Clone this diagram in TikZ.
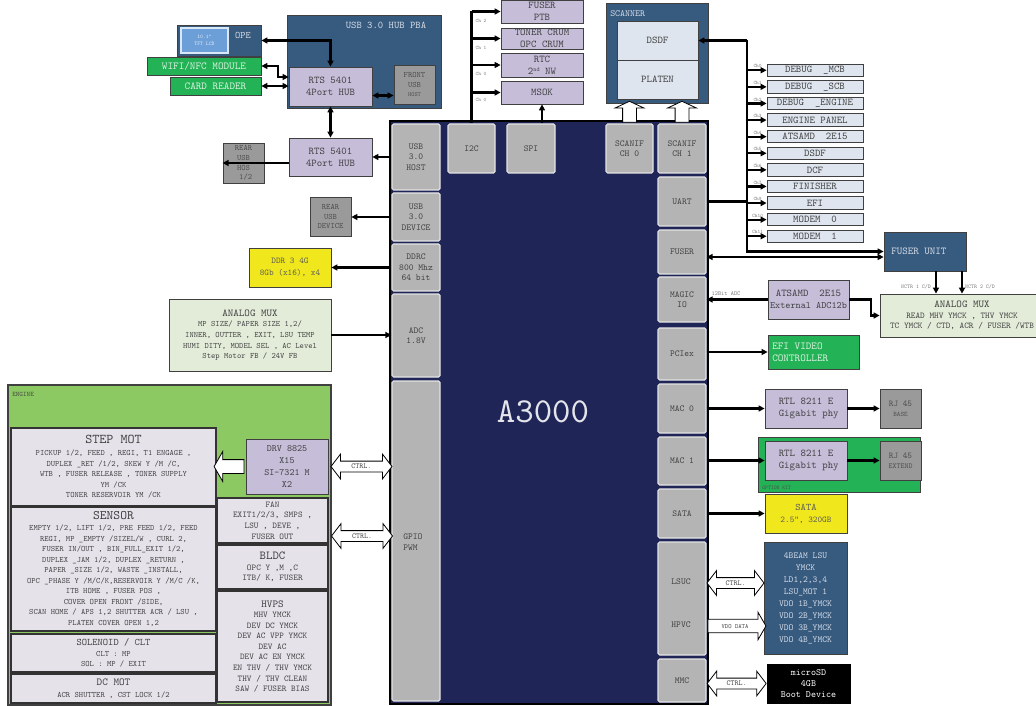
\documentclass[tikz,border=0pt]{standalone}
\usepackage{fontspec}
\setmainfont{lmmono10-regular.otf}[Scale=1.143]
\usetikzlibrary{arrows.meta,calc,shapes.arrows}
\definecolor{cNavy}{HTML}{1F2557}
\definecolor{cDark}{HTML}{375A7F}
\definecolor{cLav}{HTML}{C6BDD9}
\definecolor{cChip}{HTML}{B4B4B4}
\definecolor{cChipB}{HTML}{E4E4E4}
\definecolor{cDGray}{HTML}{9A9A9A}
\definecolor{cMod}{HTML}{24B256}
\definecolor{cEng}{HTML}{8CC963}
\definecolor{cEngBox}{HTML}{E6E2EA}
\definecolor{cYel}{HTML}{F0E81C}
\definecolor{cLGreen}{HTML}{E3ECD9}
\definecolor{cLBlue}{HTML}{DEE5EF}
\definecolor{cLTxt}{HTML}{D5DDE8}
\definecolor{cGTxt}{HTML}{404040}
\definecolor{cLcd}{HTML}{6C9FD8}
\definecolor{cModTxt}{HTML}{D9F2DF}
\newcommand\fz[2]{\fontsize{#1}{#2}\selectfont}
\newcommand\mybox[7]{%
  \pgfmathsetmacro\mbw{((#5)-(#3))*0.75}%
  \pgfmathsetmacro\mbh{((#6)-(#4))*0.75}%
  \node[#2, minimum width=\mbw pt, minimum height=\mbh pt] (#1) at ({((#3)+(#5))/2},{((#4)+(#6))/2}) {#7};}
\begin{document}
\begin{tikzpicture}[x=0.75pt,y=-0.75pt]
\tikzset{
  bbase/.style={align=center, inner sep=0pt, font=\fz{6.8}{9}},
  cb/.style={bbase, fill=cChip, draw=cChipB, line width=0.9pt, rounded corners=1.2pt, text=cGTxt, font=\fz{6}{7.9}},
  cbt/.style={align=center, inner sep=0pt, text=cGTxt, font=\fz{6}{7.9}},
  lv/.style={bbase, fill=cLav, draw=black!75, line width=0.6pt, text=cGTxt},
  dk/.style={bbase, fill=cDark, draw=black!75, line width=0.6pt, text=cLTxt},
  ltx/.style={align=center, inner sep=0pt, text=cLTxt},
  gr/.style={bbase, fill=cMod, draw=black!75, line width=0.6pt, text=cModTxt, font=\fz{7}{9}},
  grt/.style={inner sep=0pt, text=cModTxt, font=\fz{7}{9}},
  dg/.style={bbase, fill=cDGray, draw=black!75, line width=0.6pt, text=black!70, font=\fz{5.4}{7.2}},
  yl/.style={bbase, fill=cYel, draw=black!75, line width=0.6pt, text=black!65, font=\fz{5.8}{9}},
  lg/.style={bbase, fill=cLGreen, draw=black!75, line width=0.6pt, text=cGTxt, font=\fz{5.4}{8}},
  lb/.style={bbase, fill=cLBlue, draw=black!75, line width=0.6pt, text=cGTxt},
  eb/.style={bbase, fill=cEngBox, draw=black!80, line width=0.8pt, text=cGTxt, font=\fz{5.4}{7.9}},
  chl/.style={inner sep=0pt, text=black!55, font=\fz{3.4}{4}},
  ln/.style={line width=1.6pt},
  arr/.style={ln, -{Triangle[length=4.5pt,width=4.5pt]}},
  dbl/.style={ln, {Triangle[length=4.5pt,width=4.5pt]}-{Triangle[length=4.5pt,width=4.5pt]}},
  blk/.style={draw=black, fill=white, line width=0.6pt, inner xsep=0pt, text=cGTxt},
  ctrla/.style={blk, double arrow, double arrow head extend=5.25pt, double arrow tip angle=105,
     font=\fz{5}{5}, inner ysep=1.25pt, text height=4pt, text depth=1pt},
}
\useasboundingbox (0,0) rectangle (1036,706);
\fill[white] (0,0) rectangle (1036,706);

% ---------------- chip
\mybox{chip}{bbase, fill=cNavy, draw=black, line width=1.2pt}{390}{121}{708}{704}{}
\node[font=\fz{23}{26}, text=white!88!cNavy] (title) at (543,412) {A3000};
\mybox{host}{cb}{392}{124}{440}{190}{USB\\3.0\\HOST}
\mybox{device}{cb}{392}{193}{440}{241}{USB\\3.0\\DEVICE}
\mybox{ddrc}{cb}{392}{244}{440}{291}{DDRC\\800 Mhz\\64 bit}
\mybox{adc}{cb}{392}{294}{440}{377}{ADC\\1.8V}
\mybox{gpio}{cb}{392}{381}{440}{701}{}
\node[cbt, anchor=west, align=left] (gpiolbl) at (403,542) {GPIO\\PWM};
\mybox{i2c}{cb}{448}{124}{495}{173}{I2C}
\mybox{spi}{cb}{507}{124}{555}{173}{SPI}
\mybox{scan0}{cb}{606}{124}{653}{173}{SCANIF\\CH 0}
\mybox{scan1}{cb}{658}{124}{706}{173}{SCANIF\\CH 1}
\mybox{uart}{cb}{658}{177}{706}{226}{UART}
\mybox{fuser}{cb}{658}{230}{706}{274}{FUSER}
\mybox{magic}{cb}{658}{277}{706}{322}{MAGIC\\IO}
\mybox{pciex}{cb}{658}{328}{706}{380}{PCIex}
\mybox{mac0}{cb}{658}{384}{706}{433}{MAC 0}
\mybox{mac1}{cb}{658}{437}{706}{485}{MAC 1}
\mybox{sata}{cb}{658}{489}{706}{538}{SATA}
\mybox{lsuc}{cb}{658}{542}{706}{655}{}
\node[cbt] (lsuclbl) at (681,582) {LSUC};
\node[cbt] (hpvclbl) at (681,625) {HPVC};
\mybox{mmc}{cb}{658}{659}{706}{702}{MMC}

% ---------------- USB hub area
\mybox{hubpba}{dk}{287}{15}{441}{108}{}
\node[ltx, font=\fz{6.7}{8}] (hublbl) at (386,25) {USB 3.0 HUB PBA};
\mybox{rts1}{lv}{289}{67}{372}{106}{RTS 5401\\4Port HUB}
\mybox{front}{dg}{394}{65}{435}{104}{FRONT\\USB\\{\fz{4}{5}HOST}}
\mybox{ope}{dk}{177}{25}{261}{56}{}
\mybox{lcd}{bbase, fill=cLcd, draw=white!75!cLcd, line width=0.8pt, text=white!85!cLcd, font=\fz{3.6}{5}}{181}{28}{228}{53}{10.1"\\TFT LCD}
\node[ltx, font=\fz{6.5}{8}] (opelbl) at (243,35) {OPE};
\mybox{wifi}{gr}{147}{57}{261}{75}{WIFI/NFC MODULE}
\mybox{card}{gr}{170}{77}{261}{95}{CARD READER}
\mybox{rts2}{lv}{289}{138}{372}{176}{RTS 5401\\4Port HUB}
\mybox{rearhost}{dg}{223}{143}{264}{183}{REAR\\USB\\HOS\\\ 1/2}
\mybox{reardev}{dg}{310}{197}{351}{236}{REAR\\USB\\DEVICE}
\mybox{ddr}{yl}{249}{248}{331}{287}{DDR 3 4G\\8Gb (x16), x4}
\mybox{amuxl}{lg}{169}{299}{331}{371}{{\fz{6.9}{8}ANALOG MUX}\\MP SIZE/ PAPER SIZE 1,2/\\INNER, OUTTER , EXIT, LSU TEMP\\HUMI DITY, MODEL SEL , AC Level\\Step Motor FB / 24V FB}

% ---------------- I2C / SPI devices
\mybox{fptb}{lv}{501}{0}{583}{23}{FUSER\\PTB}
\mybox{toner}{lv}{501}{28}{583}{49}{TONER CRUM\\OPC CRUM}
\mybox{rtc}{lv}{501}{53}{583}{77}{RTC\\2{\fz{4}{4}\raisebox{2.2pt}{nd}} NW}
\mybox{msok}{lv}{501}{81}{583}{104}{MSOK}
\node[chl] (ch2a) at (481,21) {Ch 2};
\node[chl] (ch1a) at (481,48) {Ch 1};
\node[chl] (ch0a) at (481,74) {Ch 0};
\node[chl] (ch0b) at (481,100) {Ch 0};

% ---------------- scanner
\mybox{scanner}{dk}{606}{3}{708}{103}{}
\node[ltx, font=\fz{6.2}{7}, anchor=west] (scanlbl) at (610,14) {SCANNER};
\mybox{sdsdf}{lb}{617}{21}{698}{60}{DSDF}
\mybox{platen}{lb}{617}{60}{698}{99}{PLATEN}

% ---------------- UART devices
\coordinate (bus) at (747,40);
\foreach \i/\t/\c in {0/{DEBUG\ \ \_MCB}/Ch0, 1/{DEBUG\ \ \_SCB}/Ch1, 2/{DEBUG\ \ \_ENGINE}/Ch2,
   3/{ENGINE PANEL}/Ch3, 4/{ATSAMD\ \ 2E15}/Ch4, 5/{DSDF}/Ch5, 6/{DCF}/Ch6, 7/{FINISHER}/Ch7,
   8/{EFI}/Ch9, 9/{MODEM\ \ 0}/Ch10, 10/{MODEM\ \ 1}/Ch11}{
  \pgfmathsetmacro\yt{64+16.6*\i}
  \mybox{d\i}{lb}{767}{\yt}{863}{\yt+12.5}{\t}
  \draw[arr] (bus |- d\i.west) -- (d\i.west);
  \node[chl] (chd\i) at ($(d\i.west)+(-9,-4)$) {\c};
}
\mybox{fuserunit}{dk}{884}{232}{966}{271}{}
\node[ltx, anchor=west, font=\fz{6.9}{8}] (fulbl) at (891,251) {FUSER UNIT};
\mybox{amuxr}{lg}{880}{294}{1044}{337}{{\fz{6.9}{8}ANALOG MUX}\\{\fz{5.8}{8.3}READ MHV YMCK , THV YMCK}\\{\fz{5.8}{8.3}TC YMCK / CTD, ACR / FUSER /WTB}}
\mybox{atsamd}{lv}{768}{280}{849}{319}{ATSAMD\ \ 2E15\\{\fz{6.4}{9}External ADC12b}}
\mybox{efi}{gr}{768}{335}{859}{369}{}
\node[grt, anchor=west, align=left] (efilbl) at (772,352) {EFI VIDEO\\CONTROLLER};
\mybox{rtl0}{lv}{765}{389}{847}{428}{RTL 8211 E\\\ Gigabit phy}
\mybox{rj0}{dg}{880}{389}{921}{428}{{\fz{5.8}{8}RJ 45}\\{\fz{4.5}{6}BASE}}
\mybox{optkit}{gr}{758}{437}{920}{492}{}
\node[inner sep=0pt, font=\fz{3.6}{4}, text=black!70, anchor=west] (optlbl) at (762,488) {OPTION KIT};
\mybox{rtl1}{lv}{765}{441}{847}{480}{RTL 8211 E\\\ Gigabit phy}
\mybox{rj1}{dg}{880}{441}{921}{480}{{\fz{5.8}{8}RJ 45}\\{\fz{5}{6}EXTEND}}
\mybox{satay}{yl}{765}{494}{847}{533}{{\fz{6.6}{8}SATA}\\2.5", 320GB}
\mybox{lsu}{dk}{764}{542}{847}{654}{{\fz{6}{8}4BEAM LSU}\\{\fz{6}{8}YMCK}\\{\fz{6}{8}LD1,2,3,4}\\{\fz{6}{8}LSU\_MOT 1}\\{\fz{6}{8}VDO 1B\_YMCK}\\{\fz{6}{8}VDO 2B\_YMCK}\\{\fz{6}{8}VDO 3B\_YMCK}\\{\fz{6}{8}VDO 4B\_YMCK}}
\mybox{sd}{bbase, fill=black, draw=black, text=white, font=\fz{6.3}{8}}{767}{664}{850}{703}{microSD\\4GB\\Boot Device}

% ---------------- engine
\mybox{engine}{bbase, fill=cEng, draw=black!75, line width=0.8pt}{8}{385}{331}{705}{}
\node[inner sep=0pt, font=\fz{4.5}{5}, text=black!75, anchor=west] (englbl) at (12,394) {ENGINE};
\mybox{stepmot}{eb}{11}{428}{216}{506}{{\fz{8.8}{10}STEP MOT}\\[1pt]PICKUP 1/2, FEED , REGI, T1 ENGAGE ,\\DUPLEX \_RET /1/2, SKEW Y /M /C,\\WTB , FUSER RELEASE , TONER SUPPLY\\YM /CK\\TONER RESERVOIR YM /CK}
\mybox{sensor}{eb}{11}{507}{216}{631}{{\fz{8.5}{10}SENSOR}\\[0.5pt]EMPTY 1/2, LIFT 1/2, PRE FEED 1/2, FEED\\REGI, MP \_EMPTY /SIZEL/W , CURL 2,\\FUSER IN/OUT , BIN\_FULL\_EXIT 1/2,\\DUPLEX \_JAM 1/2, DUPLEX \_RETURN ,\\PAPER \_SIZE 1/2, WASTE \_INSTALL,\\OPC \_PHASE Y /M/C/K,RESERVOIR Y /M/C /K,\\ITB HOME , FUSER POS ,\\COVER OPEN FRONT /SIDE,\\SCAN HOME / APS 1,2 SHUTTER ACR / LSU ,\\PLATEN COVER OPEN 1,2}
\mybox{solenoid}{eb}{11}{634}{216}{672}{{\fz{6.6}{8}SOLENOID / CLT}\\CLT : MP\\SOL : MP / EXIT}
\mybox{dcmot}{eb}{11}{674}{216}{703}{{\fz{7}{8}DC MOT}\\[1pt]ACR SHUTTER , CST LOCK 1/2}
\mybox{drv}{lv}{246}{439}{328}{494}{{\fz{6.3}{9.5}DRV 8825}\\{\fz{6.3}{9.5}X15}\\{\fz{6.3}{9.5}SI-7321 M}\\{\fz{6.3}{9.5}X2}}
\mybox{fan}{eb}{217}{498}{328}{543}{{\fz{5.8}{7.2}FAN}\\{\fz{5.8}{7.2}EXIT1/2/3, SMPS ,}\\{\fz{5.8}{7.2}LSU , DEVE ,}\\{\fz{5.8}{7.2}FUSER OUT}}
\mybox{bldc}{eb}{217}{545}{328}{589}{{\fz{8}{9.5}BLDC}\\{\fz{5.8}{8}OPC Y ,M ,C}\\{\fz{5.8}{8}ITB/ K, FUSER}}
\mybox{hvps}{eb}{217}{591}{328}{702}{{\fz{7}{8.5}HVPS}\\{\fz{5.8}{8.1}MHV YMCK}\\{\fz{5.8}{8.1}DEV DC YMCK}\\{\fz{5.8}{8.1}DEV AC VPP YMCK}\\{\fz{5.8}{8.1}DEV AC}\\{\fz{5.8}{8.1}DEV AC EN YMCK}\\{\fz{5.8}{8.1}EN THV / THV YMCK}\\{\fz{5.8}{8.1}THV / THV CLEAN}\\{\fz{5.8}{8.1}SAW / FUSER BIAS}}

% ---------------- connectors
\draw[dbl] (ope.east) -| (rts1.north);
\draw[dbl] (wifi.east) -- ++(17,0) |- ($(rts1.west)+(0,-9.5)$);
\draw[dbl] (card.east) -- (card.east -| rts1.west);
\draw[dbl] ($(rts1.east)+(0,9)$) -- ($(front.west |- rts1.east)+(0,9)$);
\draw[dbl] (rts1.south) -- (rts2.north);
\draw[arr] (host.west) -- (rts2.east);
\draw[arr] (rts2.west |- rearhost.west) -- (rearhost.west);
\draw[arr] (device.west) -- (device.west -| reardev.east);
\draw[arr] (ddrc.west) -- (ddrc.west -| ddr.east);
\draw[arr] (amuxl.east) -- (amuxl.east -| adc.west);

\draw[ln] (i2c.north) -- (i2c.north |- fptb.west);
\foreach \n in {fptb,toner,rtc,msok}{\draw[arr] (i2c.north |- \n.west) -- (\n.west);}
\draw[arr] (spi.north -| msok.south) -- (msok.south);

\draw[ln] (uart.east) -- (uart.east -| bus);
\draw[arr] (bus |- sdsdf.east) -- (sdsdf.east);
\draw[arr] (bus |- sdsdf.east) |- (fuserunit.west);
\coordinate (fu2) at ($(fuser.east)+(0,5)$);
\draw[dbl] (fu2) -- (fu2 -| fuserunit.west);
\coordinate (n1) at ($(fuserunit.south)+(11,0)$);
\coordinate (n2) at ($(fuserunit.south)+(37,0)$);
\draw[arr] (n1) -- (n1 |- amuxr.north);
\draw[arr] (n2) -- (n2 |- amuxr.north);
\node[chl, font=\fz{3.7}{4}] (nctr1) at (916,287) {NCTR 1 C/D};
\node[chl, font=\fz{3.7}{4}] (nctr2) at (980,287) {NCTR 2 C/D};
\draw[arr] (atsamd.west) -- (atsamd.west -| magic.east);
\node[chl, font=\fz{4}{4}] (adc12) at (726,294) {12Bit ADC};
\draw[arr] (atsamd.east) -- ++(22,0) |- (amuxr.west);
\draw[arr] (pciex.east |- efi.west) -- (efi.west);
\draw[arr] (mac0.east |- rtl0.west) -- (rtl0.west);
\draw[arr] (rtl0.east) -- (rj0.west);
\draw[arr] (mac1.east |- rtl1.west) -- (rtl1.west);
\draw[arr] (rtl1.east) -- (rj1.west);
\draw[arr] (sata.east |- satay.west) -- (satay.west);

% ---------------- block arrows
\node[blk, single arrow, rotate=90, single arrow head extend=5.6pt, single arrow tip angle=130,
   minimum height=15.75pt, inner ysep=0pt, text height=9.75pt, text depth=0pt] (sa0)
   at ($(scan0.north)!0.5!(scan0.north |- scanner.south)$) {};
\node[blk, single arrow, rotate=90, single arrow head extend=5.6pt, single arrow tip angle=130,
   minimum height=15.75pt, inner ysep=0pt, text height=9.75pt, text depth=0pt] (sa1)
   at ($(scan1.north)!0.5!(scan1.north |- scanner.south)$) {};
\node[blk, single arrow, rotate=180, single arrow head extend=6pt, single arrow tip angle=120,
   minimum height=22.5pt, inner ysep=0pt, text height=9.75pt, text depth=0pt] (drva)
   at ($(stepmot.east |- drv.west)!0.5!(drv.west)$) {};
\node[ctrla, minimum height=45.75pt] (ctrl1) at ($(engine.east |- drv.west)!0.5!(gpio.west |- drv.west)$) {CTRL.};
\node[ctrla, minimum height=45.75pt] (ctrl2) at (362,536) {CTRL.};
\node[ctrla, minimum height=42.75pt] (ctrl3) at (735.5,583) {CTRL.};
\node[blk, single arrow, single arrow head extend=5.25pt, single arrow tip angle=120,
   minimum height=43.5pt, font=\fz{4.2}{5}, inner ysep=2pt, text height=4.5pt, text depth=1pt] (vdo)
   at (735,626) {VDO DATA};
\node[ctrla, minimum height=44.25pt] (ctrl4) at ($(mmc.east |- sd.west)!0.5!(sd.west)$) {CTRL.};
\end{tikzpicture}
\end{document}
